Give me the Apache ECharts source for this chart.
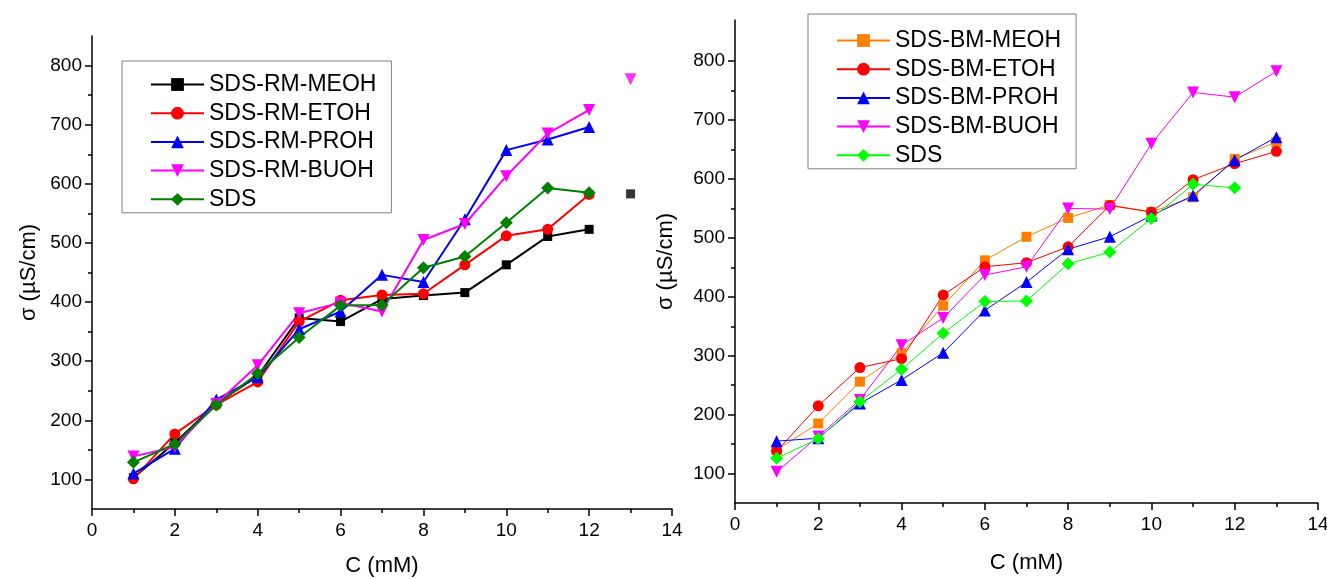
<!DOCTYPE html>
<html>
<head>
<meta charset="utf-8">
<script src="https://cdn.jsdelivr.net/npm/echarts@6/dist/echarts.min.js"></script>
<style>
html,body{margin:0;padding:0;background:#fff;}
#chart{width:1327px;height:579px;}
</style>
</head>
<body>
<div id="chart"></div>
<script>
// ---- data ----
const C = [1, 2, 3, 4, 5, 6, 7, 8, 9, 10, 11, 12, 13];

// left panel (RM)
const rmMeoh = [103, 162, 228, 275, 373, 367, 405, 411, 416, 463, 511, 523];
const rmMeohExtra = [[13, 583]];
const rmEtoh = [101, 177, 226, 265, 367, 403, 412, 414, 463, 512, 523, 582];
const rmProh = [110, 152, 235, 273, 354, 384, 446, 434, 540, 657, 675, 696];
const rmBuoh = [139, 155, 228, 293, 381, 399, 384, 505, 532, 613, 685, 725];
const rmBuohExtra = [[13, 777]];
const rmSds = [129, 160, 226, 279, 340, 394, 395, 458, 477, 534, 593, 585];

// right panel (BM)
const bmMeoh = [140, 185, 256, 304, 385, 462, 502, 534, 556, 544, 569, 634, 663];
const bmEtoh = [138, 215, 280, 295, 403, 451, 458, 485, 555, 544, 599, 626, 647];
const bmProh = [155, 160, 219, 259, 305, 377, 425, 481, 502, 538, 572, 632, 671];
const bmBuoh = [103, 163, 225, 318, 364, 437, 451, 550, 549, 660, 747, 739, 783];
const bmSds = [126, 159, 222, 277, 338, 392, 393, 456, 476, 533, 591, 585];

const rmNames = ['SDS-RM-MEOH', 'SDS-RM-ETOH', 'SDS-RM-PROH', 'SDS-RM-BUOH', 'SDS'];
const bmNames = ['SDS-BM-MEOH', 'SDS-BM-ETOH', 'SDS-BM-PROH', 'SDS-BM-BUOH', 'SDS '];

const yMajorTicks = [100, 200, 300, 400, 500, 600, 700, 800];
const yMinorTicks = [150, 250, 350, 450, 550, 650, 750];
const xTitle = 'C (mM)';
const yTitle = 'σ (µS/cm)';

// ---- helpers ----
const FONT = 'Liberation Sans, Arial, sans-serif';
function pts(vals) { return vals.map((v, i) => [C[i], v]); }

function mkX(gi, gap) {
  return {
    type: 'value', gridIndex: gi, min: 0, max: 14, interval: 2,
    name: xTitle, nameLocation: 'middle', nameGap: gap,
    nameTextStyle: {fontSize: 22, color: '#000', fontFamily: FONT},
    axisLine: {show: true, onZero: false, lineStyle: {color: '#000', width: 1.5}},
    axisTick: {show: true, length: 7, lineStyle: {color: '#000', width: 1.5}},
    minorTick: {show: true, splitNumber: 2, length: 4, lineStyle: {color: '#000', width: 1.5}},
    axisLabel: {fontSize: 19, color: '#000', margin: 12, fontFamily: FONT},
    splitLine: {show: false}, minorSplitLine: {show: false}
  };
}
function mkY(gi, max, gap) {
  return {
    type: 'value', gridIndex: gi, min: 50, max: max, position: 'left',
    name: yTitle, nameLocation: 'middle', nameGap: gap, nameRotate: 90,
    nameTextStyle: {fontSize: 22, color: '#000', fontFamily: FONT},
    axisLine: {show: true, onZero: false, lineStyle: {color: '#000', width: 1.5}},
    axisTick: {show: true, length: 7, customValues: yMajorTicks, lineStyle: {color: '#000', width: 1.5}},
    axisLabel: {fontSize: 19, color: '#000', margin: 10, customValues: yMajorTicks, fontFamily: FONT},
    splitLine: {show: false}
  };
}
function mkYMinor(gi, max) {
  return {
    type: 'value', gridIndex: gi, min: 50, max: max, position: 'left', offset: 0,
    axisLine: {show: false},
    axisTick: {show: true, length: 4, customValues: yMinorTicks, lineStyle: {color: '#000', width: 1.5}},
    axisLabel: {show: false},
    splitLine: {show: false}
  };
}
function lineSeries(name, vals, xi, yi, color, symbol, size, rot, width) {
  return {
    type: 'line', name: name, xAxisIndex: xi, yAxisIndex: yi,
    data: pts(vals), symbol: symbol, symbolSize: size, symbolRotate: rot || 0,
    showSymbol: true, showAllSymbol: true,
    color: color, itemStyle: {color: color}, lineStyle: {color: color, width: width},
    emphasis: {disabled: true}
  };
}
function pointSeries(name, data, xi, yi, color, symbol, size, rot) {
  return {
    type: 'scatter', name: name, xAxisIndex: xi, yAxisIndex: yi,
    data: data, symbol: symbol, symbolSize: size, symbolRotate: rot || 0,
    itemStyle: {color: color}, emphasis: {disabled: true}
  };
}
function mkLegend(names, left, top, padTop) {
  return {
    orient: 'vertical', left: left, top: top, data: names,
    itemWidth: 53, itemHeight: 16, itemGap: 5.7,
    padding: [padTop, 15, 2, 28],
    borderColor: '#7f7f7f', borderWidth: 1,
    formatter: n => n.trim(),
    textStyle: {fontSize: 23, color: '#000', lineHeight: 23, fontFamily: FONT},
    selectedMode: false
  };
}

const option = {
  animation: false,
  backgroundColor: '#fff',
  textStyle: {fontFamily: FONT},
  grid: [
    {left: 92, top: 36, width: 580, height: 473, containLabel: false, outerBoundsMode: 'none'},
    {left: 735, top: 20, width: 583, height: 483, containLabel: false, outerBoundsMode: 'none'}
  ],
  xAxis: [mkX(0, 46), mkX(1, 49)],
  yAxis: [mkY(0, 850, 52), mkYMinor(0, 850), mkY(1, 870, 58), mkYMinor(1, 870)],
  legend: [mkLegend(rmNames, 122, 61, 12), mkLegend(bmNames, 808, 14, 15)],
  series: [
    lineSeries(rmNames[0], rmMeoh, 0, 0, '#000000', 'rect', 9, 0, 2),
    lineSeries(rmNames[1], rmEtoh, 0, 0, '#FF0000', 'circle', 11, 0, 2),
    lineSeries(rmNames[2], rmProh, 0, 0, '#0000FF', 'triangle', 12, 0, 2),
    lineSeries(rmNames[3], rmBuoh, 0, 0, '#FF00FF', 'triangle', 12, 180, 2),
    lineSeries(rmNames[4], rmSds, 0, 0, '#008000', 'diamond', 13, 0, 2),
    pointSeries(rmNames[0], rmMeohExtra, 0, 0, '#000000', 'rect', 9, 0),
    pointSeries(rmNames[3], rmBuohExtra, 0, 0, '#FF00FF', 'triangle', 12, 180),

    lineSeries(bmNames[0], bmMeoh, 1, 2, '#FF8000', 'rect', 10, 0, 1),
    lineSeries(bmNames[1], bmEtoh, 1, 2, '#FF0000', 'circle', 11, 0, 1),
    lineSeries(bmNames[2], bmProh, 1, 2, '#0000FF', 'triangle', 12, 0, 1),
    lineSeries(bmNames[3], bmBuoh, 1, 2, '#FF00FF', 'triangle', 12, 180, 1),
    lineSeries(bmNames[4], bmSds, 1, 2, '#00FF00', 'diamond', 13, 0, 1)
  ]
};

const chart = echarts.init(document.getElementById('chart'), null, {renderer: 'canvas'});
chart.setOption(option);
</script>
</body>
</html>
